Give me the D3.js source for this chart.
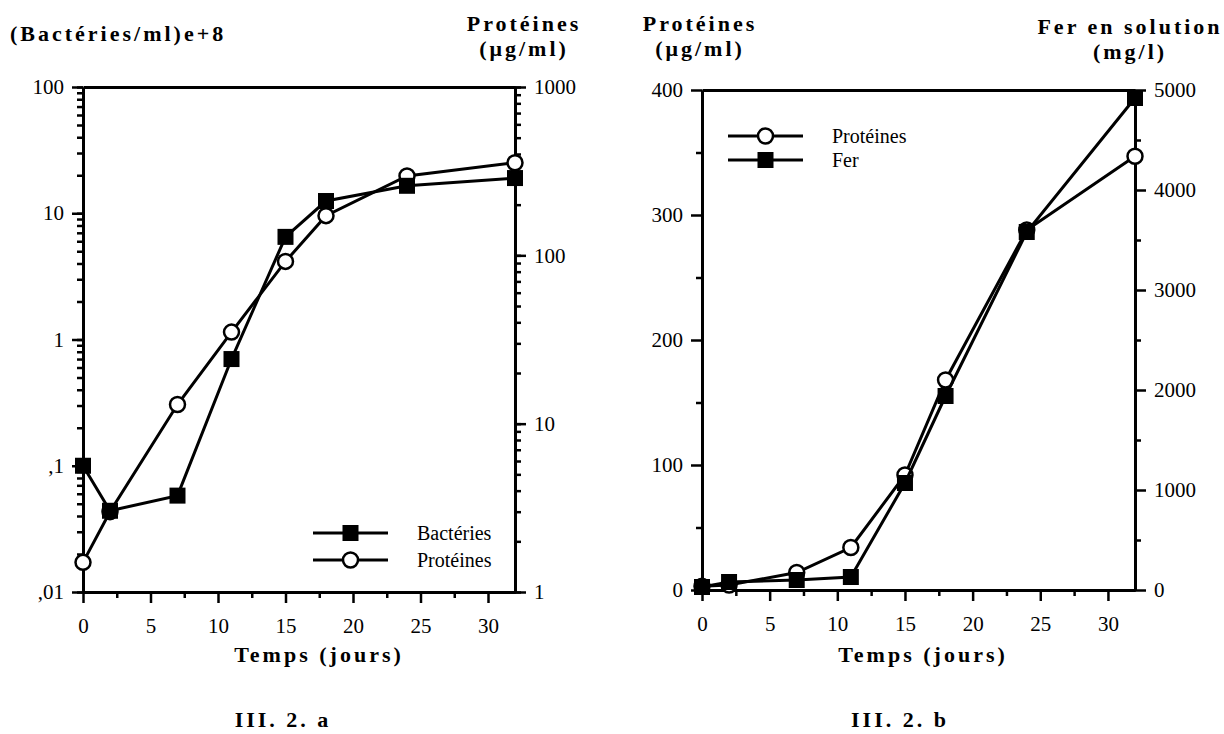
<!DOCTYPE html>
<html lang="fr">
<head>
<meta charset="UTF-8">
<title>III. 2</title>
<script src="https://d3js.org/d3.v7.min.js"></script>
<style>
  body { margin: 0; background: #fff; }
  svg text { font-family: "Liberation Serif", serif; fill: #000; }
  .axis path { stroke: #000; stroke-width: 3; }
  .axis line { stroke: #000; stroke-width: 2.5; }
  .title { font-weight: bold; font-size: 22px; letter-spacing: 3px; }
  .legend { font-size: 20px; }
</style>
</head>
<body>
<div id="chart"></div>
<script>
// values
const days = [0, 2, 7, 11, 15, 18, 24, 32];

// III. 2. a
const bacteries = [0.1, 0.044, 0.058, 0.7, 6.5, 12.5, 16.5, 19];
const proteinesA = [1.5, 3.0, 13, 35, 92, 172, 296, 355];
const bactTicks = [0.01, 0.1, 1, 10, 100];
const bactTickLabels = [",01", ",1", "1", "10", "100"];
const protLogTicks = [1, 10, 100, 1000];

// III. 2. b
const proteinesB = [3, 4, 14, 34, 92, 168, 288, 347];
const fer = [30, 80, 100, 130, 1070, 1940, 3580, 4920];
const protTicks = [0, 100, 200, 300, 400];
const protMinor = [50, 150, 250, 350];
const ferTicks = [0, 1000, 2000, 3000, 4000, 5000];
const ferMinor = [500, 1500, 2500, 3500, 4500];

const dayTicks = [0, 5, 10, 15, 20, 25, 30];
const dayMinor = [2.5, 7.5, 12.5, 17.5, 22.5, 27.5];

const width = 1224, height = 734;
const svg = d3.select("#chart").append("svg")
  .attr("width", width)
  .attr("height", height);

const majorLen = 11, minorLen = 6;

// d3 puts font attrs on the axis group, override them there
function styleAxis(g) {
  g.attr("font-size", 21).attr("font-family", "Liberation Serif, serif");
  g.selectAll("text").style("font-size", "21px");
}

function drawCircles(g, x, y, vals) {
  g.append("path")
    .datum(vals)
    .attr("fill", "none")
    .attr("stroke", "#000")
    .attr("stroke-width", 3)
    .attr("d", d3.line().x((d, i) => x(days[i])).y(d => y(d)));
  g.append("g").selectAll("circle")
    .data(vals)
    .join("circle")
    .attr("cx", (d, i) => x(days[i]))
    .attr("cy", d => y(d))
    .attr("r", 7.5)
    .attr("fill", "#fff")
    .attr("stroke", "#000")
    .attr("stroke-width", 2.5);
}

function drawSquares(g, x, y, vals) {
  g.append("path")
    .datum(vals)
    .attr("fill", "none")
    .attr("stroke", "#000")
    .attr("stroke-width", 3)
    .attr("d", d3.line().x((d, i) => x(days[i])).y(d => y(d)));
  g.append("g").selectAll("rect")
    .data(vals)
    .join("rect")
    .attr("x", (d, i) => x(days[i]) - 8)
    .attr("y", d => y(d) - 8)
    .attr("width", 16)
    .attr("height", 16)
    .attr("fill", "#000");
}

function legendRow(g, x0, x1, y, type, label, tx) {
  g.append("line")
    .attr("x1", x0).attr("x2", x1)
    .attr("y1", y).attr("y2", y)
    .attr("stroke", "#000").attr("stroke-width", 3);
  const cx = (x0 + x1) / 2;
  if (type == "square") {
    g.append("rect").attr("x", cx - 8).attr("y", y - 8)
      .attr("width", 16).attr("height", 16).attr("fill", "#000");
  } else {
    g.append("circle").attr("cx", cx).attr("cy", y).attr("r", 7.5)
      .attr("fill", "#fff").attr("stroke", "#000").attr("stroke-width", 2.5);
  }
  g.append("text").attr("class", "legend")
    .attr("x", tx).attr("y", y + 7).text(label);
}

function xAxis(g, x, y0, y1) {
  // bottom axis with minor ticks, plus top frame line
  g.append("g").attr("class", "axis")
    .attr("transform", `translate(0,${y0})`)
    .call(d3.axisBottom(x).tickValues(dayMinor).tickSize(minorLen).tickSizeOuter(0).tickFormat(""));
  g.append("g").attr("class", "axis")
    .attr("transform", `translate(0,${y0})`)
    .call(d3.axisBottom(x).tickValues(dayTicks).tickSize(majorLen).tickSizeOuter(0).tickPadding(15))
    .call(styleAxis);
  g.append("g").attr("class", "axis")
    .attr("transform", `translate(0,${y1})`)
    .call(d3.axisTop(x).tickValues([]).tickSizeOuter(0));
}

// ---------- III. 2. a ----------
const a = svg.append("g");
const xA = d3.scaleLinear().domain([0, 32]).range([83, 515]);
const yBact = d3.scaleLog().domain([0.01, 100]).range([592, 87]);
const yProtA = d3.scaleLog().domain([1, 1000]).range([592, 87]);

xAxis(a, xA, 592, 87);

a.append("g").attr("class", "axis")
  .attr("transform", `translate(${xA(0)},0)`)
  .call(d3.axisLeft(yBact).tickValues(yBact.ticks()).tickSize(minorLen).tickSizeOuter(0).tickFormat(""));
a.append("g").attr("class", "axis")
  .attr("transform", `translate(${xA(0)},0)`)
  .call(d3.axisLeft(yBact).tickValues(bactTicks).tickSize(majorLen).tickSizeOuter(0).tickPadding(8)
    .tickFormat((d, i) => bactTickLabels[i]))
  .call(styleAxis);

a.append("g").attr("class", "axis")
  .attr("transform", `translate(${xA(32)},0)`)
  .call(d3.axisRight(yProtA).tickValues(yProtA.ticks()).tickSize(minorLen).tickSizeOuter(0).tickFormat(""));
a.append("g").attr("class", "axis")
  .attr("transform", `translate(${xA(32)},0)`)
  .call(d3.axisRight(yProtA).tickValues(protLogTicks).tickSize(majorLen).tickSizeOuter(0).tickPadding(8)
    .tickFormat(d3.format("d")))
  .call(styleAxis);

drawCircles(a, xA, yProtA, proteinesA);
drawSquares(a, xA, yBact, bacteries);

legendRow(a, 313, 388, 533, "square", "Bactéries", 417);
legendRow(a, 313, 388, 560, "circle", "Protéines", 417);

a.append("text").attr("class", "title").attr("x", 10).attr("y", 41).text("(Bactéries/ml)e+8");
a.append("text").attr("class", "title").attr("x", 524).attr("y", 31)
  .attr("text-anchor", "middle").text("Protéines");
a.append("text").attr("class", "title").attr("x", 524).attr("y", 56)
  .attr("text-anchor", "middle").text("(μg/ml)");
a.append("text").attr("class", "title").attr("x", 319).attr("y", 662)
  .attr("text-anchor", "middle").text("Temps (jours)");
a.append("text").attr("class", "title").attr("x", 283).attr("y", 727)
  .attr("text-anchor", "middle").text("III. 2. a");

// ---------- III. 2. b ----------
const b = svg.append("g");
const xB = d3.scaleLinear().domain([0, 32]).range([702, 1135]);
const yProtB = d3.scaleLinear().domain([0, 400]).range([590, 90]);
const yFer = d3.scaleLinear().domain([0, 5000]).range([590, 90]);

xAxis(b, xB, 590, 90);

b.append("g").attr("class", "axis")
  .attr("transform", `translate(${xB(0)},0)`)
  .call(d3.axisLeft(yProtB).tickValues(protMinor).tickSize(minorLen).tickSizeOuter(0).tickFormat(""));
b.append("g").attr("class", "axis")
  .attr("transform", `translate(${xB(0)},0)`)
  .call(d3.axisLeft(yProtB).tickValues(protTicks).tickSize(majorLen).tickSizeOuter(0).tickPadding(8))
  .call(styleAxis);

b.append("g").attr("class", "axis")
  .attr("transform", `translate(${xB(32)},0)`)
  .call(d3.axisRight(yFer).tickValues(ferMinor).tickSize(minorLen).tickSizeOuter(0).tickFormat(""));
b.append("g").attr("class", "axis")
  .attr("transform", `translate(${xB(32)},0)`)
  .call(d3.axisRight(yFer).tickValues(ferTicks).tickSize(majorLen).tickSizeOuter(0).tickPadding(8)
    .tickFormat(d3.format("d")))
  .call(styleAxis);

drawCircles(b, xB, yProtB, proteinesB);
drawSquares(b, xB, yFer, fer);

legendRow(b, 728, 803, 136, "circle", "Protéines", 832);
legendRow(b, 728, 803, 160, "square", "Fer", 832);

b.append("text").attr("class", "title").attr("x", 700).attr("y", 31)
  .attr("text-anchor", "middle").text("Protéines");
b.append("text").attr("class", "title").attr("x", 700).attr("y", 56)
  .attr("text-anchor", "middle").text("(μg/ml)");
b.append("text").attr("class", "title").attr("x", 1130).attr("y", 34)
  .attr("text-anchor", "middle").text("Fer en solution");
b.append("text").attr("class", "title").attr("x", 1130).attr("y", 59)
  .attr("text-anchor", "middle").text("(mg/l)");
b.append("text").attr("class", "title").attr("x", 923).attr("y", 662)
  .attr("text-anchor", "middle").text("Temps (jours)");
b.append("text").attr("class", "title").attr("x", 900).attr("y", 727)
  .attr("text-anchor", "middle").text("III. 2. b");
</script>
</body>
</html>
